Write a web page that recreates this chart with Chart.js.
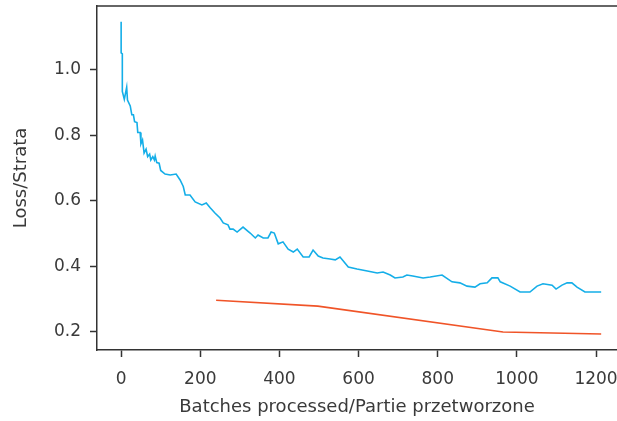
<!DOCTYPE html>
<html>
<head>
<meta charset="utf-8">
<script src="https://cdn.jsdelivr.net/npm/chart.js@4.4.1/dist/chart.umd.min.js"></script>
<style>
  html, body { margin: 0; padding: 0; background: #fff; }
  #wrap { width: 617px; height: 421px; }
</style>
</head>
<body>
<div id="wrap"><canvas id="lossChart" width="617" height="421"></canvas></div>
<script>
// Training loss (blue)
const trainSteps = [0, 0, 3, 3, 8, 14, 16, 23, 27, 31, 34, 40, 42, 48, 50, 54, 58, 63, 67, 72, 75, 80, 84, 86, 90, 96, 100, 111, 124, 139, 149, 151, 157, 162, 174, 187, 204, 215, 225, 237, 250, 258, 270, 275, 283, 293, 308, 326, 339, 346, 359, 371, 379, 387, 397, 409, 422, 435, 445, 460, 475, 485, 498, 510, 528, 541, 553, 574, 596, 622, 647, 662, 680, 692, 712, 722, 737, 763, 781, 811, 836, 856, 874, 894, 907, 925, 937, 952, 958, 983, 1008, 1033, 1051, 1066, 1089, 1099, 1114, 1127, 1139, 1152, 1172, 1190, 1213];
const trainLoss = [1.147, 1.052, 1.049, 0.934, 0.91, 0.947, 0.908, 0.89, 0.863, 0.863, 0.842, 0.839, 0.809, 0.809, 0.774, 0.786, 0.746, 0.758, 0.735, 0.743, 0.725, 0.735, 0.725, 0.737, 0.717, 0.715, 0.693, 0.682, 0.679, 0.682, 0.664, 0.664, 0.644, 0.618, 0.618, 0.597, 0.588, 0.594, 0.579, 0.563, 0.548, 0.533, 0.527, 0.514, 0.514, 0.505, 0.52, 0.502, 0.487, 0.496, 0.487, 0.487, 0.505, 0.502, 0.469, 0.475, 0.453, 0.444, 0.453, 0.429, 0.429, 0.45, 0.432, 0.426, 0.423, 0.42, 0.429, 0.398, 0.392, 0.386, 0.38, 0.383, 0.374, 0.365, 0.368, 0.374, 0.371, 0.365, 0.368, 0.374, 0.353, 0.35, 0.34, 0.337, 0.347, 0.35, 0.365, 0.365, 0.353, 0.34, 0.322, 0.322, 0.34, 0.347, 0.343, 0.331, 0.343, 0.35, 0.35, 0.337, 0.322, 0.322, 0.322];

// Validation loss (orange)
const valSteps = [240, 497, 965, 1213];
const valLoss = [0.297, 0.279, 0.2, 0.194];

const xTicks = [0, 200, 400, 600, 800, 1000, 1200];
const yTicks = [0.2, 0.4, 0.6, 0.8, 1.0];

const fontFamily = '"DejaVu Sans", sans-serif';
const textColor = '#3a3a3a';
const spineColor = '#333333';

// borde superior del área del gráfico
const topSpine = {
  id: 'topSpine',
  afterDraw(chart) {
    const { ctx, chartArea } = chart;
    ctx.save();
    ctx.strokeStyle = spineColor;
    ctx.lineWidth = 1.5;
    ctx.beginPath();
    ctx.moveTo(chartArea.left, chartArea.top);
    ctx.lineTo(chartArea.right, chartArea.top);
    ctx.stroke();
    ctx.restore();
  }
};

const toPoints = (xs, ys) => xs.map((x, i) => ({ x: x, y: ys[i] }));

// sin relleno extra para las etiquetas en los bordes
const noEdgePadding = scale => {
  scale.paddingTop = 0;
  scale.paddingBottom = 0;
  scale.paddingLeft = 0;
  scale.paddingRight = 0;
};

new Chart(document.getElementById('lossChart'), {
  type: 'line',
  data: {
    datasets: [{
      label: 'train',
      data: toPoints(trainSteps, trainLoss),
      borderColor: 'rgb(20, 174, 232)',
      borderWidth: 1.6,
      pointRadius: 0,
      tension: 0,
      fill: false
    }, {
      label: 'val',
      data: toPoints(valSteps, valLoss),
      borderColor: 'rgb(240, 84, 40)',
      borderWidth: 1.6,
      pointRadius: 0,
      tension: 0,
      fill: false
    }]
  },
  options: {
    responsive: false,
    animation: false,
    layout: { padding: { top: 6, right: 0, left: 0, bottom: 0 } },
    plugins: {
      legend: { display: false },
      tooltip: { enabled: false }
    },
    scales: {
      x: {
        type: 'linear',
        min: -61,
        max: 1253,
        afterFit(scale) { scale.height = 71; noEdgePadding(scale); },
        afterBuildTicks(scale) { scale.ticks = xTicks.map(v => ({ value: v })); },
        border: { display: true, color: spineColor, width: 1.5 },
        grid: { drawOnChartArea: false, drawTicks: true, tickLength: 7, color: spineColor, tickWidth: 1.5 },
        ticks: {
          color: textColor,
          font: { family: fontFamily, size: 17 },
          padding: 12,
          maxRotation: 0,
          autoSkip: false,
          callback: v => String(v)
        },
        title: {
          display: true,
          text: 'Batches processed/Partie przetworzone',
          color: textColor,
          font: { family: fontFamily, size: 18 },
          padding: { top: 4, bottom: 3 }
        }
      },
      y: {
        min: 0.145,
        max: 1.195,
        afterFit(scale) { scale.width = 97; noEdgePadding(scale); },
        afterBuildTicks(scale) { scale.ticks = yTicks.map(v => ({ value: v })); },
        border: { display: true, color: spineColor, width: 1.5 },
        grid: { drawOnChartArea: false, drawTicks: true, tickLength: 7, color: spineColor, tickWidth: 1.5 },
        ticks: {
          color: textColor,
          font: { family: fontFamily, size: 17 },
          padding: 9,
          callback: v => v.toFixed(1)
        },
        title: {
          display: true,
          text: 'Loss/Strata',
          color: textColor,
          font: { family: fontFamily, size: 18 },
          padding: { top: 11, bottom: 4 }
        }
      }
    }
  },
  plugins: [topSpine]
});
</script>
</body>
</html>
